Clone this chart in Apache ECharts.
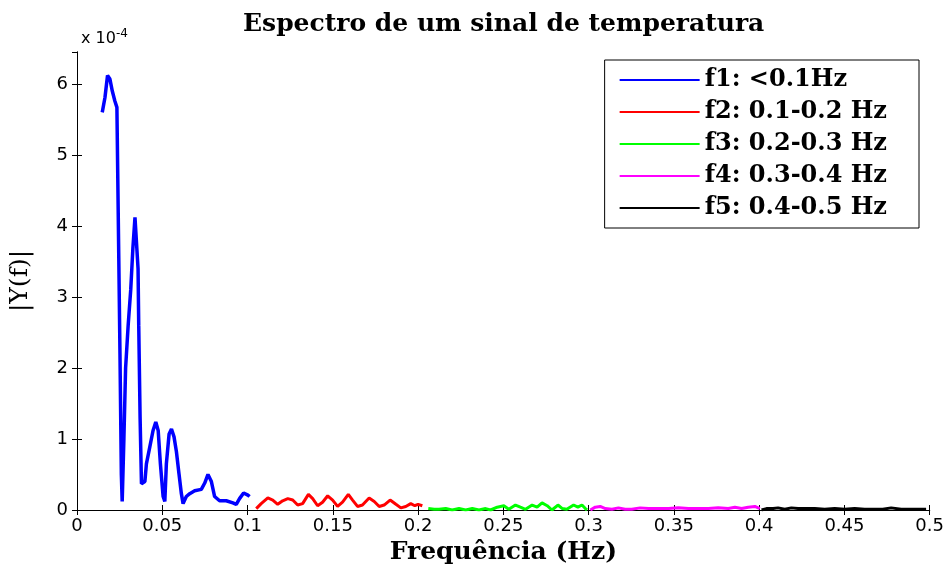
<!DOCTYPE html>
<html><head><meta charset="utf-8">
<script src="https://cdn.jsdelivr.net/npm/echarts@6/dist/echarts.min.js"></script>
<style>html,body{margin:0;padding:0;background:#fff}#c{width:947px;height:570px}</style>
</head><body><div id="c"></div>
<script>
// Values of |Y(f)| are in units of 1e-4
const seriesNames = ['f1: <0.1Hz', 'f2: 0.1-0.2 Hz', 'f3: 0.2-0.3 Hz', 'f4: 0.3-0.4 Hz', 'f5: 0.4-0.5 Hz'];
const seriesColors = ['#0000ff', '#ff0000', '#00ff00', '#ff00ff', '#000000'];

const f1Freq = [0.0148,0.0164,0.0179,0.0193,0.0207,0.0222,0.0234,0.0245,0.0252,0.0260,0.0265,0.0275,0.0285,0.0300,0.0315,0.0328,0.0340,0.0350,0.0358,0.0362,0.0370,0.0378,0.0386,0.0398,0.0407,0.0427,0.0446,0.0462,0.0476,0.0489,0.0505,0.0515,0.0524,0.0540,0.0554,0.0569,0.0583,0.0598,0.0612,0.0622,0.0641,0.0661,0.0690,0.0729,0.0749,0.0768,0.0788,0.0807,0.0836,0.0875,0.0914,0.0934,0.0953,0.0977,0.1002,0.1012];
const f1Val  = [5.60,5.81,6.12,6.07,5.90,5.76,5.67,3.55,2.20,0.50,0.12,1.00,2.00,2.60,3.10,3.70,4.12,4.10,3.40,2.60,1.30,0.37,0.37,0.40,0.65,0.89,1.12,1.24,1.12,0.65,0.19,0.12,0.65,1.07,1.14,1.03,0.82,0.51,0.23,0.09,0.19,0.23,0.27,0.29,0.38,0.50,0.40,0.19,0.13,0.13,0.10,0.08,0.16,0.24,0.21,0.19];

const f2Freq = [0.1051,0.1080,0.1119,0.1148,0.1177,0.1206,0.1236,0.1265,0.1294,0.1323,0.1357,0.1382,0.1411,0.1440,0.1470,0.1499,0.1528,0.1557,0.1591,0.1616,0.1645,0.1674,0.1713,0.1743,0.1772,0.1801,0.1836,0.1870,0.1899,0.1928,0.1957,0.1981,0.2000,0.2025];
const f2Val  = [0.02,0.09,0.17,0.14,0.08,0.13,0.16,0.14,0.07,0.09,0.22,0.16,0.06,0.11,0.20,0.14,0.05,0.11,0.22,0.14,0.05,0.07,0.17,0.12,0.05,0.07,0.14,0.08,0.03,0.05,0.09,0.06,0.08,0.06];

const f3Freq = [0.2060,0.2094,0.2123,0.2162,0.2200,0.2240,0.2279,0.2318,0.2357,0.2396,0.2425,0.2464,0.2503,0.2532,0.2571,0.2600,0.2630,0.2669,0.2698,0.2727,0.2757,0.2785,0.2820,0.2846,0.2872,0.2912,0.2937,0.2961,0.2981,0.2991];
const f3Val  = [0.02,0.01,0.01,0.02,0.00,0.02,0.00,0.02,0.00,0.02,0.00,0.04,0.06,0.01,0.07,0.04,0.01,0.07,0.04,0.10,0.06,0.00,0.07,0.02,0.01,0.07,0.04,0.07,0.02,0.00];

const f4Freq = [0.3010,0.3039,0.3068,0.3098,0.3137,0.3175,0.3214,0.3253,0.3302,0.3351,0.3410,0.3469,0.3526,0.3585,0.3643,0.3702,0.3760,0.3819,0.3858,0.3897,0.3936,0.3975,0.4004];
const f4Val  = [0.00,0.04,0.05,0.02,0.01,0.03,0.01,0.01,0.03,0.02,0.02,0.02,0.03,0.02,0.02,0.02,0.03,0.02,0.04,0.02,0.04,0.05,0.02];

const f5Freq = [0.4014,0.4043,0.4082,0.4111,0.4150,0.4189,0.4228,0.4267,0.4326,0.4384,0.4443,0.4501,0.4560,0.4618,0.4677,0.4725,0.4774,0.4833,0.4891,0.4950,0.4979];
const f5Val  = [0.00,0.02,0.02,0.03,0.01,0.03,0.02,0.02,0.02,0.01,0.02,0.01,0.02,0.01,0.01,0.01,0.03,0.01,0.01,0.01,0.01];

const xTickStep = 0.05;
const yTickStep = 1;

const freqs = [f1Freq, f2Freq, f3Freq, f4Freq, f5Freq];
const vals = [f1Val, f2Val, f3Val, f4Val, f5Val];
const widths = [3.5, 3, 3, 3, 3];

const chart = echarts.init(document.getElementById('c'), null, {renderer: 'canvas'});
const axisCommon = {
  axisLine: {show: true, lineStyle: {color: '#000', width: 1}},
  axisTick: {show: true, inside: true, length: 5, lineStyle: {color: '#000'}},
  splitLine: {show: false}
};
const option = {
  backgroundColor: '#fff',
  animation: false,
  title: [{
    text: 'Espectro de um sinal de temperatura',
    left: 238, top: 7,
    textStyle: {fontFamily: 'DejaVu Serif', fontWeight: 'bold', fontSize: 25, color: '#000'}
  }, {
    text: 'x 10{s|-4}',
    left: 76, top: 23,
    textStyle: {fontFamily: 'DejaVu Sans', fontWeight: 'normal', fontSize: 16, color: '#000',
      rich: {s: {fontFamily: 'DejaVu Sans', fontSize: 12, color: '#000', padding: [0, 0, 10, 0]}}}
  }],
  grid: {left: 77, right: 16, top: 52, bottom: 56, containLabel: false},
  legend: {
    orient: 'vertical',
    right: 28, top: 60,
    data: seriesNames,
    icon: 'rect',
    itemWidth: 80, itemHeight: 2,
    itemGap: 8,
    padding: [8, 32, 8, 15],
    backgroundColor: '#fff',
    borderColor: '#000', borderWidth: 1, borderRadius: 0,
    textStyle: {fontFamily: 'DejaVu Serif', fontWeight: 'bold', fontSize: 24, color: '#000', lineHeight: 24}
  },
  xAxis: [Object.assign({
    type: 'value', position: 'bottom', min: 0, max: 0.5, interval: xTickStep,
    name: 'Frequência (Hz)', nameLocation: 'middle', nameGap: 30,
    nameTextStyle: {fontFamily: 'DejaVu Serif', fontWeight: 'bold', fontSize: 25, color: '#000'},
    axisLabel: {fontFamily: 'DejaVu Sans', fontSize: 18, color: '#000', margin: 7,
      formatter: v => String(parseFloat(v.toFixed(2)))}
  }, axisCommon), Object.assign({
    type: 'value', position: 'top', min: 0, max: 0.5, interval: xTickStep,
    axisLabel: {show: false}
  }, axisCommon)],
  yAxis: [Object.assign({
    type: 'value', position: 'left', min: 0, max: 6.45, interval: yTickStep,
    name: '|Y(f)|', nameLocation: 'middle', nameGap: 44, nameRotate: 90,
    nameTextStyle: {fontFamily: 'DejaVu Serif', fontSize: 25, color: '#000'},
    axisLabel: {fontFamily: 'DejaVu Sans', fontSize: 18, color: '#000', margin: 9, showMaxLabel: false,
      formatter: v => (Math.abs(v - Math.round(v)) < 1e-9 ? String(Math.round(v)) : '')}
  }, axisCommon), Object.assign({
    type: 'value', position: 'right', min: 0, max: 6.45, interval: yTickStep,
    axisLabel: {show: false}
  }, axisCommon)],
  series: seriesNames.map((name, k) => ({
    name: name,
    type: 'line',
    xAxisIndex: 0, yAxisIndex: 0,
    symbol: 'none',
    showSymbol: false,
    color: seriesColors[k],
    lineStyle: {color: seriesColors[k], width: widths[k]},
    data: freqs[k].map((f, i) => [f, vals[k][i]])
  }))
};
chart.setOption(option);
</script>
</body></html>
